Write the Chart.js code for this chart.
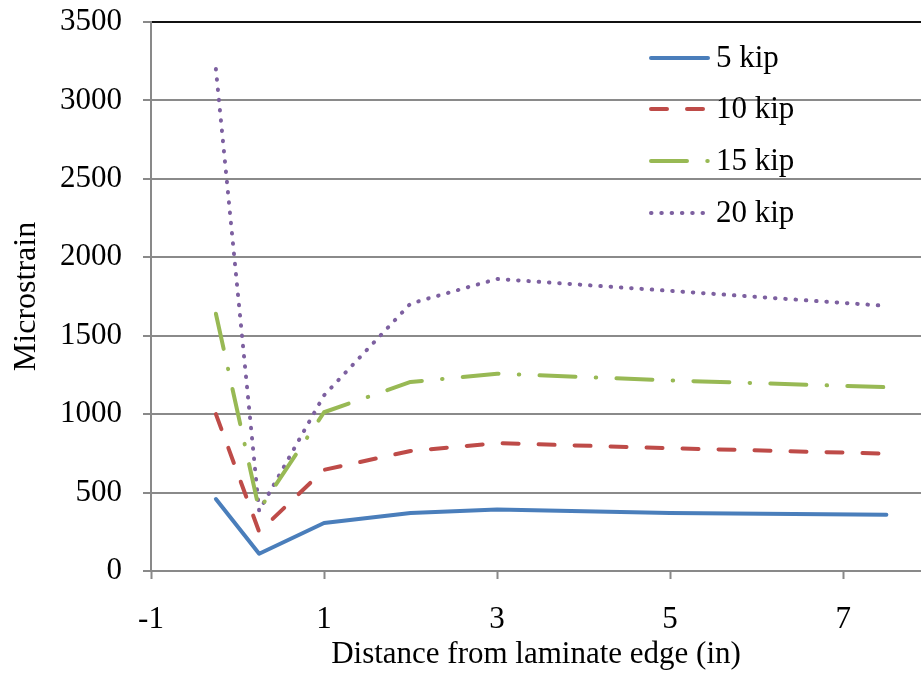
<!DOCTYPE html>
<html>
<head>
<meta charset="utf-8">
<script src="https://cdn.jsdelivr.net/npm/chart.js@4.4.1/dist/chart.umd.min.js"></script>
<style>
  body { margin: 0; background: #fff; }
  #wrap { width: 921px; height: 675px; position: relative; }
</style>
</head>
<body>
<div id="wrap"><canvas id="strainChart"></canvas></div>
<script>
// distance from laminate edge (in)
const distances = [-0.25, 0.25, 1, 2, 3, 5, 7.5];

// microstrain per load level
const kip5 = [459, 110, 306, 370, 392, 370, 358];
const kip10 = [1000, 250, 645, 765, 815, 783, 748];
const kip15 = [1640, 390, 1012, 1205, 1258, 1215, 1172];
const kip20 = [3200, 383, 1120, 1705, 1862, 1786, 1690];

const seriesNames = ["5 kip", "10 kip", "15 kip", "20 kip"];
const xTicks = [-1, 1, 3, 5, 7];

const FONT = "'Liberation Serif', 'Times New Roman', serif";

function toPoints(values) {
    return distances.map((d, i) => ({x: d, y: values[i]}));
}

function makeSet(label, values, color, dash) {
    return {
        label: label,
        data: toPoints(values),
        borderColor: color,
        backgroundColor: color,
        borderWidth: 4,
        borderDash: dash,
        borderCapStyle: 'round',
        borderJoinStyle: 'round',
        pointRadius: 0,
        tension: 0,
        fill: false
    };
}

// legend drawn by hand so the dash styles look like the original
const legendPlugin = {
    id: 'sideLegend',
    afterDraw(chart) {
        const ctx = chart.ctx;
        const rows = [58, 109, 161, 213];
        ctx.save();
        chart.data.datasets.forEach((ds, i) => {
            const y = rows[i];
            ctx.beginPath();
            ctx.strokeStyle = ds.borderColor;
            ctx.lineWidth = ds.borderWidth;
            ctx.lineCap = 'round';
            ctx.setLineDash(ds.borderDash || []);
            ctx.moveTo(651, y);
            ctx.lineTo(708, y);
            ctx.stroke();
            ctx.setLineDash([]);
            ctx.fillStyle = '#000';
            ctx.font = "31px " + FONT;
            ctx.textBaseline = 'middle';
            ctx.textAlign = 'left';
            ctx.fillText(ds.label, 716, y + 1);
        });
        ctx.restore();
    }
};

const ctx = document.getElementById("strainChart").getContext("2d");
new Chart(ctx, {
    type: 'line',
    data: {
        datasets: [
            makeSet(seriesNames[0], kip5, '#4A7EBB', []),
            makeSet(seriesNames[1], kip10, '#BE4B48', [16, 20]),
            makeSet(seriesNames[2], kip15, '#98B954', [36, 20.25, 0.5, 20.25]),
            makeSet(seriesNames[3], kip20, '#7D60A0', [0.5, 9.8])
        ]
    },
    options: {
        responsive: true,
        maintainAspectRatio: false,
        animation: false,
        layout: {padding: {left: 0, right: 0, top: 22, bottom: 0}},
        plugins: {
            legend: {display: false},
            tooltip: {enabled: false}
        },
        scales: {
            x: {
                type: 'linear',
                min: -1,
                max: 7.9,
                afterBuildTicks: scale => {
                    scale.ticks = xTicks.map(v => ({value: v}));
                },
                afterFit: scale => {
                    scale.height = 104;
                    scale.paddingLeft = 0;
                    scale.paddingRight = 0;
                },
                grid: {
                    drawOnChartArea: false,
                    drawTicks: true,
                    tickLength: 8,
                    tickColor: '#898989',
                    tickWidth: 2
                },
                border: {color: '#898989', width: 2},
                ticks: {
                    color: '#000',
                    padding: 22,
                    maxRotation: 0,
                    font: {family: FONT, size: 31}
                },
                title: {
                    display: true,
                    text: 'Distance from laminate edge (in)',
                    color: '#000',
                    font: {family: FONT, size: 31},
                    padding: {top: 0, bottom: 2}
                }
            },
            y: {
                min: 0,
                max: 3500,
                afterFit: scale => {
                    scale.width = 151;
                    scale.paddingTop = 0;
                    scale.paddingBottom = 0;
                },
                grid: {
                    color: c => (c.tick && c.tick.value === 3500) ? '#111' : '#8a8a8a',
                    lineWidth: 2,
                    drawTicks: true,
                    tickLength: 8,
                    tickColor: '#898989',
                    tickWidth: 2
                },
                border: {color: '#898989', width: 2},
                ticks: {
                    stepSize: 500,
                    color: '#000',
                    padding: 21,
                    font: {family: FONT, size: 31},
                    callback: v => String(v)
                },
                title: {
                    display: true,
                    text: 'Microstrain',
                    color: '#000',
                    font: {family: FONT, size: 32},
                    padding: {top: 7, bottom: 0}
                }
            }
        }
    },
    plugins: [legendPlugin]
});
</script>
</body>
</html>
